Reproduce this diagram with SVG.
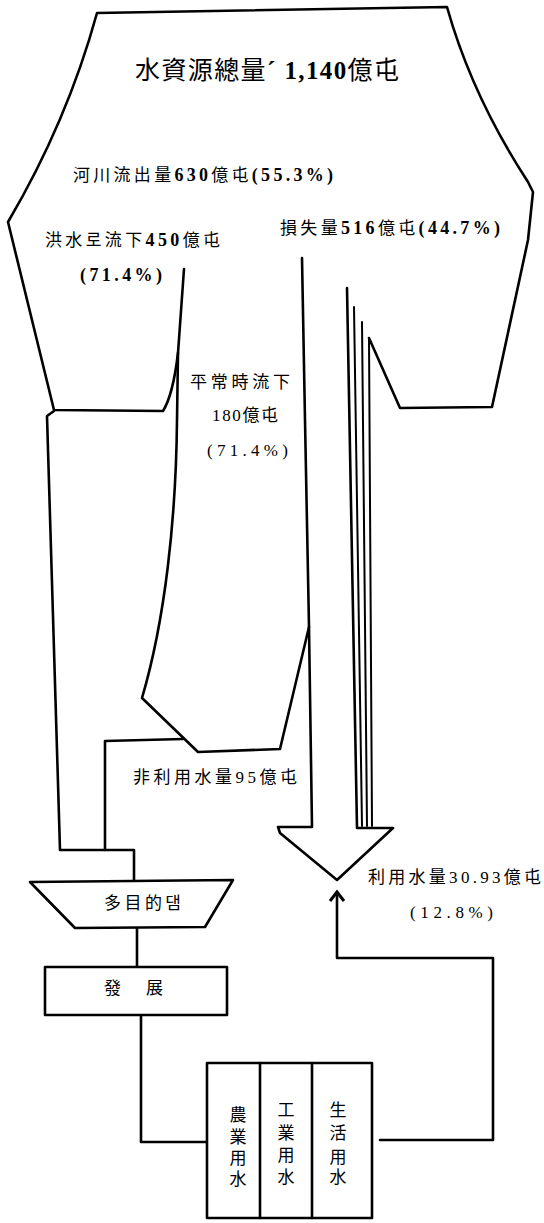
<svg xmlns="http://www.w3.org/2000/svg" width="544" height="1223" viewBox="0 0 544 1223">
<style>
.ln{fill:none;stroke:#000;stroke-width:2.6;stroke-linejoin:round;stroke-linecap:round}
.th{fill:none;stroke:#000;stroke-width:2;stroke-linecap:round}
.bx{fill:#fff;stroke:#000;stroke-width:2.6;stroke-linejoin:round}
text{font-family:"Liberation Serif","Noto Sans CJK KR",serif;fill:#000;font-size:17px}
.b{font-weight:bold;font-size:18px}
.t{font-size:25px}
.tb{font-weight:bold;font-size:25px}
.v{font-size:17px;text-anchor:middle}
</style>
<defs>
<marker id="chev" viewBox="-3 -9 14 18" refX="8" refY="0" markerWidth="14" markerHeight="18" markerUnits="userSpaceOnUse" orient="auto">
<path d="M-1,-7 L8,0 L-1,7" fill="none" stroke="#000" stroke-width="3" stroke-linejoin="miter"/>
</marker>
</defs>
<rect width="544" height="1223" fill="#fff"/>

<g id="water-resources">
<path class="ln" d="M184,269 L178,353 Q173,395 163,411 L54,410 L8,222 Q67,122 97,13 L447,7 Q472,96 528,182 L533,192 L528,240 L492,407 L400,408 L369,338"/>
<text class="t" x="135" y="79" textLength="264">水資源總量<tspan class="tb">´ 1,140</tspan>億屯</text>
<text x="73" y="181" textLength="260">河川流出量<tspan class="b">630</tspan>億屯<tspan class="b">(55.3%)</tspan></text>
<text x="45" y="246" textLength="175">洪水로流下<tspan class="b">450</tspan>億屯</text>
<text x="80" y="281" textLength="82" class="b">(71.4%)</text>
<text x="280" y="234" textLength="220">損失量<tspan class="b">516</tspan>億屯<tspan class="b">(44.7%)</tspan></text>
</g>

<g id="normal-flow">
<path class="ln" d="M178,353 L177,420 C176,520 165,620 142,698 L198,752 L280,749 L309,627"/>
<text x="190" y="388" textLength="100">平常時流下</text>
<text x="212" y="421" textLength="66">180億屯</text>
<text x="207" y="456" textLength="81">(71.4%)</text>
</g>

<g id="usage-arrow">
<path class="ln" d="M302,258 L305,420 L309,627 L312,827 L278,827 L280,833 L337,880 L393,828 L357,828 L347,288"/>
<path class="th" d="M354,307 L362,826"/>
<path class="th" d="M362,322 L367,826"/>
<path class="th" d="M369,338 L372,826"/>
<text x="368" y="883" textLength="173">利用水量30.93億屯</text>
<text x="410" y="918" textLength="83">(12.8%)</text>
</g>

<g id="connectors">
<path class="ln" d="M183,739 L105,741 L105,850"/>
<path class="ln" d="M54,411 L47,416 L60,850 L134,850 L134,880"/>
<path class="ln" d="M137,928 L137,967"/>
<path class="ln" d="M141,1015 L141,1142 L207,1142"/>
<path class="ln" d="M380,1140 L493,1140 L493,958 L337,958 L337,892" marker-end="url(#chev)"/>
<text x="133" y="783" textLength="164">非利用水量95億屯</text>
</g>

<g id="dam">
<polygon class="bx" points="30,882 233,880 205,927 75,928"/>
<text x="104" y="909" textLength="77">多目的댐</text>
</g>

<g id="development">
<rect class="bx" x="45" y="967" width="182" height="48"/>
<text x="104" y="994" textLength="59">發 展</text>
</g>

<g id="water-uses">
<rect class="bx" x="207" y="1063" width="165" height="155"/>
<path class="ln" d="M260,1063 L260,1218 M312,1063 L312,1218"/>
<text class="v"><tspan x="238" y="1121">農</tspan><tspan x="238" y="1143">業</tspan><tspan x="238" y="1164">用</tspan><tspan x="238" y="1185">水</tspan></text>
<text class="v"><tspan x="286" y="1116">工</tspan><tspan x="286" y="1139">業</tspan><tspan x="286" y="1161">用</tspan><tspan x="286" y="1183">水</tspan></text>
<text class="v"><tspan x="338" y="1116">生</tspan><tspan x="338" y="1139">活</tspan><tspan x="338" y="1163">用</tspan><tspan x="338" y="1183">水</tspan></text>
</g>
</svg>
